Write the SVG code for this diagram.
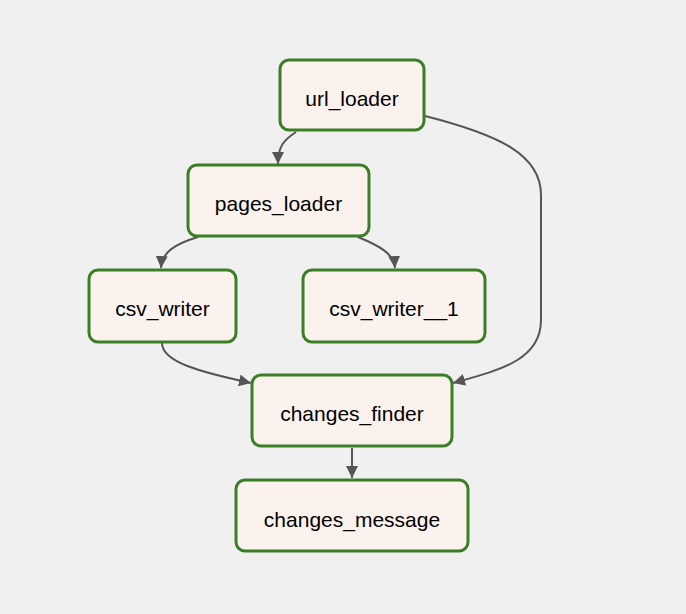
<svg xmlns="http://www.w3.org/2000/svg" width="686" height="614" viewBox="0 0 686 614">
<style>
.node rect{fill:#fbf1ed;stroke:#3a7f26;stroke-width:3}
.node text{font-family:"Liberation Sans",Arial,sans-serif;font-size:21px;fill:#000;text-anchor:middle;dominant-baseline:central}
.edge{fill:none;stroke:#555;stroke-width:2;marker-end:url(#arr)}
</style>
<defs>
<marker id="arr" viewBox="0 0 10 10" refX="10" refY="5" markerWidth="6" markerHeight="6" markerUnits="strokeWidth" orient="auto">
<path d="M0,0 L10,5 L0,10 z" fill="#555"/>
</marker>
</defs>
<rect width="686" height="614" fill="#f0f0f0"/>
<g id="edges">
<path class="edge" d="M296,132 C284,140 278,146 278,164"/>
<path class="edge" d="M425,116 C500,135 541,155 541,195 L541,320 C541,360 500,370 453,383"/>
<path class="edge" d="M198,237 C175,244 162,252 161,268"/>
<path class="edge" d="M358,237 C380,246 394,254 395,268"/>
<path class="edge" d="M162,343 C162,362 200,372 251,383"/>
<path class="edge" d="M352,448 L352,478"/>
</g>
<g id="url_loader" class="node"><rect x="280" y="60" width="144" height="70" rx="9"/><text x="352" y="98">url_loader</text></g>
<g id="pages_loader" class="node"><rect x="188" y="165" width="181" height="71" rx="9"/><text x="278.5" y="203">pages_loader</text></g>
<g id="csv_writer" class="node"><rect x="89" y="270" width="147" height="72" rx="9"/><text x="162.5" y="308">csv_writer</text></g>
<g id="csv_writer__1" class="node"><rect x="303" y="270" width="182" height="72" rx="9"/><text x="394" y="308">csv_writer__1</text></g>
<g id="changes_finder" class="node"><rect x="252" y="375" width="200" height="71" rx="9"/><text x="352" y="413">changes_finder</text></g>
<g id="changes_message" class="node"><rect x="236" y="480" width="232" height="71" rx="9"/><text x="352" y="519">changes_message</text></g>
</svg>
